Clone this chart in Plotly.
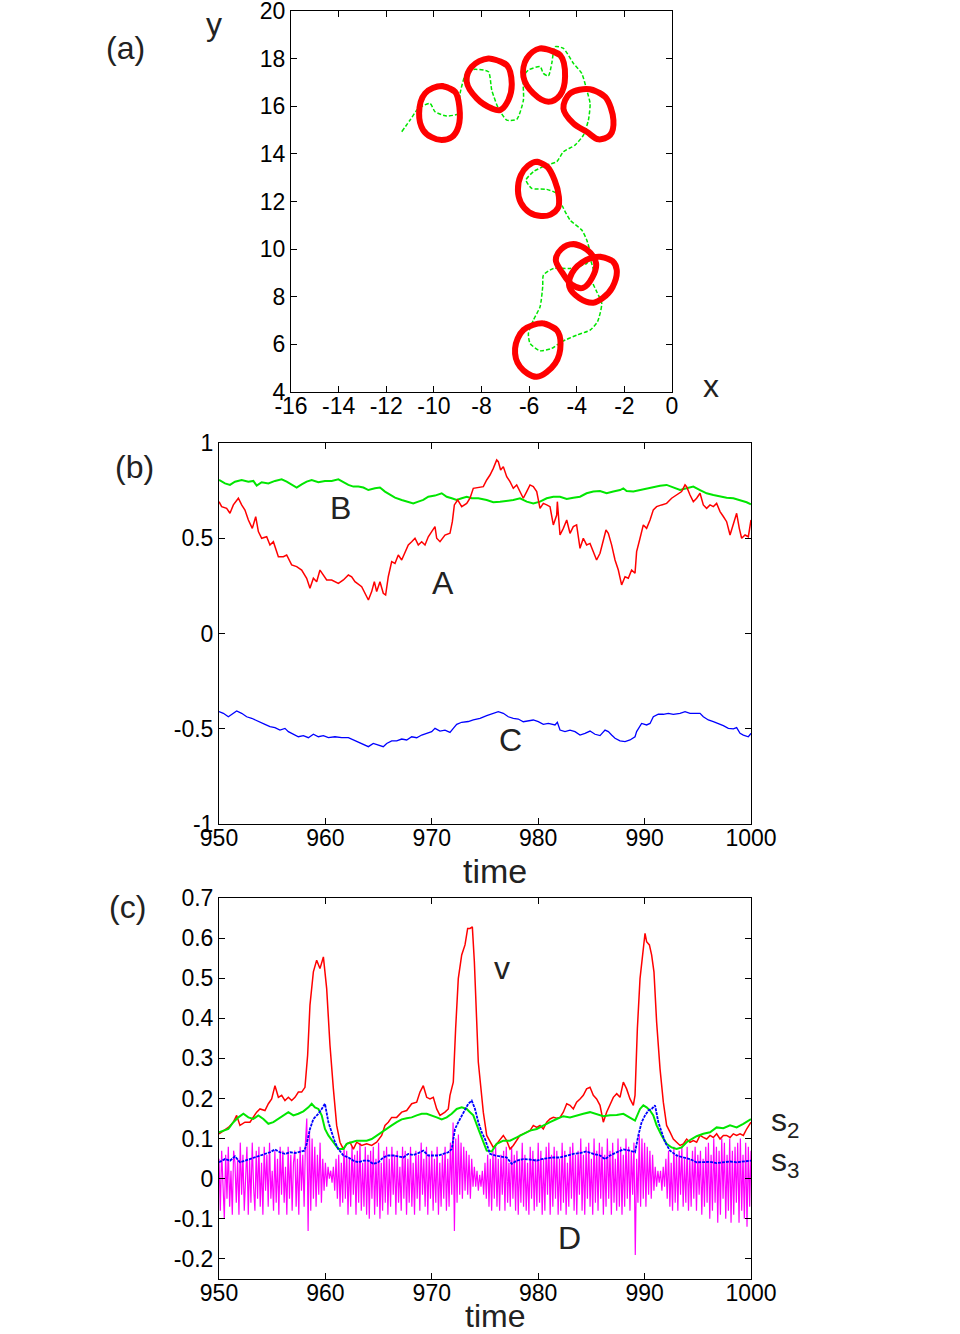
import plotly.graph_objects as go

# ---------------- Panel (a): trajectory and loops ----------------
traj_x = [-11.35, -11.0, -10.65, -10.16, -9.95, -9.46, -8.97, -8.90, -8.62, -8.27, -7.71, -7.57, -7.29,
          -6.94, -6.52, -6.24, -6.24, -6.03, -5.54, -5.40, -5.19, -5.05, -4.91, -4.56, -4.14, -3.79,
          -3.58, -3.44, -3.51, -3.72, -4.07, -4.56, -4.84, -5.26, -5.82, -6.13, -5.89, -5.26, -4.84,
          -4.6, -4.28, -3.79, -3.58, -3.44, -3.58, -4.28, -4.98, -5.40, -5.43, -5.54, -5.82, -6.03,
          -5.96, -5.54, -5.05, -4.63, -4.0, -3.44, -3.13, -2.95, -3.16, -3.37, -3.30, -3.44]
traj_y = [14.93, 15.42, 15.91, 16.12, 15.77, 15.59, 15.70, 16.54, 17.45, 17.55, 17.45, 16.68, 15.91,
          15.42, 15.45, 16.26, 17.24, 17.52, 17.66, 17.38, 17.27, 17.80, 18.50, 18.43, 17.80, 17.38,
          16.68, 16.12, 15.42, 14.79, 14.37, 14.09, 13.67, 13.53, 13.25, 12.90, 12.55, 12.51, 12.34,
          11.8, 11.22, 10.8, 10.38, 9.82, 9.40, 9.19, 9.19, 8.91, 8.42, 7.58, 7.02, 6.46,
          6.04, 5.73, 5.83, 6.11, 6.39, 6.60, 6.95, 7.72, 8.21, 8.70, 9.12, 9.6]

loops_x = [
    [-9.67, -9.11, -8.93, -8.97, -9.25, -9.67, -10.1, -10.45, -10.62, -10.37],
    [-7.71, -6.94, -6.73, -6.87, -7.22, -7.57, -8.20, -8.62, -8.41],
    [-5.54, -4.70, -4.49, -4.70, -5.19, -5.82, -6.24, -6.10],
    [-3.44, -2.81, -2.46, -2.60, -3.09, -3.58, -4.14, -4.56, -4.28],
    [-5.68, -5.24, -4.93, -4.75, -4.78, -5.1, -5.5, -6.0, -6.35, -6.47, -6.35, -6.05],
    [-4.14, -3.6, -3.19, -3.35, -3.74, -4.2, -4.6, -4.88, -4.65],
    [-3.02, -2.5, -2.32, -2.5, -2.9, -3.3, -3.9, -4.31, -4.2, -3.6],
    [-5.40, -4.84, -4.68, -4.91, -5.68, -6.38, -6.59, -6.24],
]
loops_y = [
    [16.85, 16.61, 15.98, 15.14, 14.7, 14.58, 14.7, 15.0, 15.70, 16.54],
    [18.01, 17.73, 16.96, 16.26, 15.84, 15.91, 16.33, 17.03, 17.66],
    [18.43, 18.15, 17.24, 16.47, 16.19, 16.54, 17.24, 18.01],
    [16.71, 16.40, 15.42, 14.79, 14.61, 14.93, 15.28, 15.91, 16.54],
    [13.67, 13.46, 12.90, 12.2, 11.75, 11.45, 11.39, 11.55, 11.95, 12.48, 13.1, 13.5],
    [10.21, 10.0, 9.42, 8.8, 8.37, 8.5, 9.0, 9.54, 10.0],
    [9.68, 9.5, 9.12, 8.4, 7.95, 7.75, 7.95, 8.42, 9.0, 9.55],
    [6.88, 6.60, 6.04, 5.20, 4.64, 5.06, 5.83, 6.60],
]

# ---------------- Panel (b): A, B, C ----------------
A_t = [950.00, 950.25, 950.72, 951.03, 951.35, 951.82, 952.13, 952.44, 952.76, 953.13, 953.45, 953.70,
       954.01, 954.48, 954.79, 955.11, 955.58, 956.05, 956.36, 956.83, 957.30, 957.77, 958.24, 958.55,
       958.87, 959.18, 959.49, 959.81, 960.12, 960.59, 961.22, 961.69, 962.16, 962.47, 962.78, 963.41,
       963.72, 964.04, 964.35, 964.60, 964.82, 965.13, 965.44, 965.66, 965.91, 966.23, 966.54, 966.85,
       967.17, 967.48, 967.79, 968.11, 968.42, 968.73, 969.05, 969.36, 969.67, 969.99, 970.30, 970.46,
       970.77, 971.24, 971.71, 971.93, 972.12, 972.43, 972.81, 973.28, 973.59, 973.90, 974.37,
       974.84, 975.16, 975.47, 975.78, 976.10, 976.25, 976.47, 976.72, 977.04, 977.35, 977.66, 977.98,
       978.29, 978.60, 978.92, 979.23, 979.54, 979.86, 980.17, 980.48, 980.80, 981.11, 981.42, 981.74,
       981.80, 982.05, 982.36, 982.68, 982.99, 983.30, 983.61, 983.93, 984.24, 984.55, 984.87, 985.18,
       985.49, 985.81, 986.12, 986.37, 986.59, 986.90, 987.22, 987.53, 987.84, 988.16, 988.47, 988.78,
       989.10, 989.25, 989.57, 989.88, 990.19, 990.51, 990.82, 991.13, 991.60, 992.07, 992.54, 993.01,
       993.48, 993.80, 993.95, 994.27, 994.58, 994.89, 995.21, 995.52, 995.83, 996.15, 996.46, 996.77,
       997.09, 997.40, 997.71, 998.03, 998.34, 998.65, 998.90, 999.12, 999.44, 999.75, 1000.0]
A_v = [0.692, 0.666, 0.657, 0.631, 0.675, 0.710, 0.675, 0.648, 0.596, 0.552, 0.613, 0.535,
       0.500, 0.508, 0.465, 0.482, 0.403, 0.403, 0.412, 0.360, 0.351, 0.333, 0.290, 0.237,
       0.290, 0.272, 0.333, 0.307, 0.281, 0.281, 0.263, 0.281, 0.307, 0.298, 0.272, 0.246,
       0.211, 0.176, 0.220, 0.272, 0.220, 0.272, 0.211, 0.202, 0.298, 0.377, 0.368, 0.412,
       0.386, 0.430, 0.465, 0.482, 0.500, 0.465, 0.482, 0.465, 0.508, 0.535, 0.561, 0.500,
       0.482, 0.517, 0.526, 0.587, 0.675, 0.701, 0.666, 0.683, 0.710, 0.762, 0.766,
       0.771, 0.806, 0.832, 0.867, 0.911, 0.902, 0.858, 0.876, 0.823, 0.797, 0.762, 0.780,
       0.745, 0.710, 0.745, 0.780, 0.771, 0.745, 0.657, 0.683, 0.675, 0.666, 0.570, 0.622,
       0.692, 0.517, 0.552, 0.596, 0.526, 0.561, 0.570, 0.447, 0.500, 0.465, 0.473, 0.430,
       0.386, 0.421, 0.482, 0.543, 0.526, 0.465, 0.386, 0.333, 0.255, 0.298, 0.290, 0.333,
       0.316, 0.430, 0.500, 0.570, 0.552, 0.596, 0.649, 0.666, 0.675, 0.683, 0.710, 0.727,
       0.745, 0.780, 0.771, 0.727, 0.692, 0.710, 0.736, 0.675, 0.657, 0.675, 0.666, 0.683,
       0.640, 0.614, 0.587, 0.517, 0.578, 0.631, 0.552, 0.500, 0.517, 0.508, 0.596]

B_t = [950.00, 950.56, 951.03, 951.50, 952.13, 952.76, 953.23, 953.54, 954.01, 954.64, 955.26, 955.89,
       956.36, 956.83, 957.30, 957.77, 958.24, 958.71, 959.34, 959.96, 960.59, 961.22, 961.69, 962.16,
       962.63, 963.10, 963.57, 964.04, 964.66, 965.13, 965.60, 966.07, 966.54, 967.17, 967.79, 968.26,
       968.73, 969.20, 969.67, 970.30, 970.93, 971.40, 971.87, 972.34, 972.81, 973.28, 973.75, 974.37,
       975.16, 975.78, 976.41, 977.04, 977.66, 978.29, 978.92, 979.54, 980.17, 980.80, 981.42, 982.05,
       982.68, 983.30, 983.93, 984.55, 985.18, 985.81, 986.43, 987.06, 987.69, 988.00, 988.31, 988.94,
       989.57, 990.19, 990.82, 991.45, 992.07, 992.70, 993.33, 993.95, 994.58, 995.21, 995.83, 996.46,
       997.09, 997.71, 998.34, 998.97, 999.59, 1000.0]
B_v = [0.806, 0.788, 0.780, 0.797, 0.806, 0.797, 0.801, 0.776, 0.794, 0.788, 0.801, 0.809,
       0.797, 0.780, 0.766, 0.783, 0.797, 0.806, 0.794, 0.801, 0.801, 0.809, 0.794, 0.780,
       0.771, 0.771, 0.766, 0.753, 0.762, 0.766, 0.745, 0.727, 0.713, 0.701, 0.689, 0.683,
       0.692, 0.701, 0.718, 0.724, 0.736, 0.718, 0.710, 0.701, 0.710, 0.718, 0.710, 0.710,
       0.701, 0.689, 0.692, 0.696, 0.701, 0.710, 0.692, 0.683, 0.692, 0.710, 0.718, 0.718,
       0.706, 0.713, 0.718, 0.736, 0.745, 0.748, 0.736, 0.745, 0.753, 0.762, 0.748, 0.745,
       0.753, 0.762, 0.771, 0.776, 0.780, 0.766, 0.753, 0.762, 0.771, 0.753, 0.736, 0.727,
       0.718, 0.713, 0.710, 0.701, 0.689, 0.678]

C_t = [950.00, 950.41, 950.88, 951.19, 951.66, 952.13, 952.60, 953.07, 953.38, 953.85, 954.32, 954.79,
       955.26, 955.73, 956.20, 956.52, 956.99, 957.46, 957.93, 958.40, 958.87, 959.34, 959.81, 960.28,
       960.90, 961.53, 962.16, 962.63, 963.10, 963.57, 964.04, 964.50, 964.97, 965.44, 965.76, 966.23,
       966.70, 967.17, 967.64, 968.11, 968.58, 969.05, 969.52, 969.99, 970.30, 970.77, 971.24, 971.71,
       972.02, 972.34, 972.81, 973.43, 973.90, 974.37, 974.53, 975.16, 975.78, 976.25, 976.72, 977.19,
       977.66, 978.13, 978.60, 979.07, 979.54, 980.01, 980.48, 980.95, 981.58, 981.80, 982.05, 982.52,
       982.99, 983.46, 983.93, 984.40, 984.87, 985.34, 985.81, 986.28, 986.59, 986.90, 987.22, 987.69,
       988.16, 988.63, 989.10, 989.25, 989.72, 990.19, 990.51, 990.82, 991.29, 991.76, 992.23, 992.70,
       993.33, 993.80, 994.27, 994.74, 995.21, 995.52, 995.99, 996.46, 996.93, 997.40, 997.87, 998.34,
       998.65, 998.97, 999.28, 999.75, 1000.0]
C_v = [-0.410, -0.419, -0.437, -0.424, -0.407, -0.419, -0.437, -0.445, -0.454, -0.466, -0.477, -0.489,
       -0.494, -0.507, -0.498, -0.515, -0.529, -0.542, -0.536, -0.547, -0.529, -0.542, -0.536, -0.547,
       -0.542, -0.547, -0.547, -0.559, -0.568, -0.582, -0.594, -0.577, -0.585, -0.594, -0.577, -0.564,
       -0.564, -0.554, -0.559, -0.542, -0.547, -0.533, -0.524, -0.515, -0.498, -0.512, -0.507, -0.519,
       -0.498, -0.477, -0.466, -0.462, -0.454, -0.448, -0.445, -0.431, -0.419, -0.410, -0.419, -0.437,
       -0.445, -0.449, -0.463, -0.459, -0.454, -0.463, -0.477, -0.472, -0.480, -0.466, -0.507, -0.515,
       -0.507, -0.515, -0.533, -0.524, -0.512, -0.529, -0.536, -0.507, -0.515, -0.533, -0.550, -0.564,
       -0.568, -0.559, -0.542, -0.515, -0.472, -0.480, -0.472, -0.437, -0.424, -0.424, -0.419, -0.424,
       -0.419, -0.410, -0.419, -0.419, -0.419, -0.437, -0.454, -0.463, -0.472, -0.484, -0.498, -0.501,
       -0.494, -0.524, -0.533, -0.542, -0.524]

# ---------------- Panel (c): v, s2, s3, D ----------------
v_t = [950.00, 950.41, 950.88, 951.35, 951.66, 951.97, 952.44, 952.91, 953.23, 953.54, 953.85, 954.32,
       954.64, 954.95, 955.26, 955.58, 955.89, 956.20, 956.52, 956.83, 957.14, 957.46, 957.77, 958.08,
       958.33, 958.55, 958.87, 959.18, 959.49, 959.81, 960.12, 960.43, 960.75, 961.06, 961.37, 961.69,
       962.00, 962.31, 962.63, 962.94, 963.41, 963.88, 964.35, 964.82, 965.29, 965.60, 965.91, 966.23,
       966.70, 967.17, 967.64, 968.11, 968.58, 968.89, 969.20, 969.52, 969.83, 970.14, 970.46, 970.77,
       971.24, 971.55, 971.71, 972.02, 972.24, 972.49, 972.81, 973.12, 973.37, 973.59, 973.81, 974.00,
       974.37, 974.84, 975.16, 975.47, 975.78, 976.10, 976.41, 976.72, 977.04, 977.35, 977.66, 977.98,
       978.29, 978.60, 978.92, 979.23, 979.54, 979.86, 980.17, 980.48, 980.80, 981.11, 981.42, 981.74,
       982.05, 982.36, 982.68, 982.99, 983.30, 983.61, 983.93, 984.24, 984.55, 984.87, 985.18, 985.49,
       985.81, 986.12, 986.43, 986.75, 987.06, 987.38, 987.69, 988.00, 988.31, 988.63, 988.94, 989.10,
       989.32, 989.57, 989.82, 990.04, 990.19, 990.45, 990.66, 990.88, 991.13, 991.45, 991.76, 992.07,
       992.39, 992.70, 993.01, 993.33, 993.64, 993.95, 994.27, 994.58, 994.89, 995.21, 995.52, 995.83,
       996.15, 996.46, 996.77, 997.09, 997.40, 997.71, 998.03, 998.34, 998.65, 998.97, 999.28, 999.59,
       1000.0]
v_v = [0.112, 0.120, 0.128, 0.141, 0.158, 0.133, 0.141, 0.141, 0.153, 0.166, 0.174, 0.170,
       0.187, 0.199, 0.232, 0.203, 0.208, 0.195, 0.203, 0.195, 0.203, 0.216, 0.216, 0.228,
       0.308, 0.433, 0.516, 0.545, 0.524, 0.553, 0.474, 0.333, 0.224, 0.133, 0.091, 0.074,
       0.087, 0.091, 0.074, 0.091, 0.083, 0.087, 0.083, 0.091, 0.108, 0.133, 0.141, 0.153,
       0.153, 0.166, 0.170, 0.187, 0.191, 0.216, 0.232, 0.203, 0.199, 0.203, 0.174, 0.158,
       0.166, 0.174, 0.208, 0.241, 0.374, 0.499, 0.558, 0.583, 0.624, 0.624, 0.628, 0.541,
       0.291, 0.166, 0.108, 0.091, 0.078, 0.087, 0.099, 0.108, 0.095, 0.074, 0.083, 0.095,
       0.108, 0.112, 0.116, 0.120, 0.133, 0.128, 0.133, 0.124, 0.141, 0.149, 0.153, 0.151,
       0.153, 0.166, 0.187, 0.183, 0.174, 0.191, 0.199, 0.208, 0.224, 0.228, 0.208, 0.199,
       0.183, 0.141, 0.166, 0.183, 0.203, 0.212, 0.203, 0.241, 0.224, 0.199, 0.183, 0.208,
       0.374, 0.499, 0.558, 0.612, 0.591, 0.583, 0.558, 0.516, 0.391, 0.274, 0.191, 0.133,
       0.116, 0.099, 0.091, 0.083, 0.087, 0.099, 0.091, 0.095, 0.091, 0.108, 0.103, 0.099,
       0.108, 0.103, 0.112, 0.099, 0.108, 0.108, 0.103, 0.112, 0.108, 0.112, 0.108, 0.124,
       0.141]

s2_t = [950.00, 950.41, 950.88, 951.35, 951.82, 952.29, 952.76, 953.23, 953.70, 954.17, 954.64, 955.11,
        955.58, 956.05, 956.52, 956.99, 957.46, 957.93, 958.40, 958.71, 959.02, 959.34, 959.65, 959.96,
        960.28, 960.75, 961.22, 961.69, 962.00, 962.47, 962.94, 963.41, 963.88, 964.35, 964.82, 965.29,
        965.76, 966.23, 966.70, 967.17, 967.64, 968.11, 968.58, 969.05, 969.52, 969.99, 970.46, 970.93,
        971.40, 971.87, 972.34, 972.81, 973.28, 973.59, 973.90, 974.37, 974.84, 975.16, 975.63, 976.10,
        976.72, 977.35, 977.98, 978.60, 979.23, 979.86, 980.48, 981.11, 981.74, 982.36, 982.99, 983.61,
        984.24, 984.87, 985.49, 986.12, 986.75, 987.38, 988.00, 988.63, 989.10, 989.57, 989.88, 990.19,
        990.51, 990.82, 991.13, 991.60, 992.07, 992.54, 993.01, 993.48, 993.95, 994.42, 994.89, 995.52,
        996.15, 996.77, 997.40, 998.03, 998.65, 999.28, 1000.0]
s2_v = [0.116, 0.120, 0.124, 0.141, 0.153, 0.162, 0.153, 0.149, 0.158, 0.149, 0.137, 0.141,
        0.149, 0.158, 0.166, 0.158, 0.162, 0.168, 0.178, 0.187, 0.178, 0.174, 0.158, 0.124,
        0.108, 0.091, 0.074, 0.074, 0.087, 0.091, 0.095, 0.095, 0.095, 0.099, 0.108, 0.116,
        0.124, 0.133, 0.141, 0.148, 0.151, 0.153, 0.158, 0.162, 0.162, 0.158, 0.153, 0.148,
        0.153, 0.162, 0.174, 0.178, 0.174, 0.166, 0.158, 0.124, 0.091, 0.070, 0.068, 0.087,
        0.095, 0.095, 0.103, 0.112, 0.120, 0.124, 0.133, 0.141, 0.149, 0.156, 0.153, 0.158,
        0.162, 0.166, 0.162, 0.156, 0.158, 0.159, 0.162, 0.153, 0.145, 0.174, 0.183, 0.178,
        0.170, 0.158, 0.133, 0.108, 0.087, 0.078, 0.074, 0.078, 0.091, 0.099, 0.106, 0.112,
        0.116, 0.128, 0.126, 0.133, 0.128, 0.137, 0.149]

s3_t = [950.00, 950.56, 951.03, 951.50, 951.97, 952.44, 952.91, 953.38, 953.85, 954.32, 954.79, 955.26,
        955.73, 956.20, 956.67, 957.14, 957.61, 958.02, 958.24, 958.55, 958.87, 959.34, 959.65, 959.96,
        960.28, 960.59, 960.90, 961.22, 961.69, 962.16, 962.63, 963.10, 963.57, 964.04, 964.50, 964.97,
        965.44, 965.91, 966.38, 966.85, 967.32, 967.79, 968.26, 968.73, 969.20, 969.67, 970.14, 970.61,
        971.08, 971.55, 971.87, 972.18, 972.49, 972.96, 973.43, 973.75, 974.06, 974.37, 974.69, 975.00,
        975.47, 975.94, 976.41, 977.04, 977.51, 977.98, 978.60, 979.23, 979.86, 980.33, 980.80, 981.42,
        982.05, 982.68, 983.30, 983.93, 984.55, 985.18, 985.81, 986.28, 986.75, 987.38, 988.00, 988.63,
        989.10, 989.41, 989.72, 990.04, 990.35, 990.66, 990.98, 991.29, 991.60, 991.92, 992.39, 993.01,
        993.64, 994.27, 994.89, 995.52, 996.15, 996.77, 997.40, 998.03, 998.65, 999.28, 1000.0]
s3_v = [0.041, 0.049, 0.045, 0.056, 0.041, 0.045, 0.049, 0.053, 0.058, 0.062, 0.066, 0.073,
        0.066, 0.062, 0.066, 0.064, 0.068, 0.070, 0.087, 0.124, 0.149, 0.162, 0.174, 0.187,
        0.141, 0.116, 0.091, 0.074, 0.058, 0.053, 0.045, 0.041, 0.045, 0.045, 0.037, 0.041,
        0.053, 0.058, 0.058, 0.056, 0.053, 0.062, 0.059, 0.064, 0.070, 0.058, 0.058, 0.058,
        0.062, 0.066, 0.074, 0.124, 0.141, 0.166, 0.187, 0.195, 0.174, 0.141, 0.116, 0.099,
        0.062, 0.058, 0.056, 0.053, 0.037, 0.045, 0.049, 0.048, 0.045, 0.049, 0.051, 0.053,
        0.053, 0.058, 0.062, 0.064, 0.068, 0.062, 0.058, 0.049, 0.058, 0.066, 0.073, 0.070,
        0.066, 0.108, 0.141, 0.158, 0.170, 0.174, 0.183, 0.141, 0.116, 0.091, 0.070, 0.058,
        0.053, 0.049, 0.041, 0.041, 0.042, 0.039, 0.041, 0.043, 0.041, 0.043, 0.045]

# D sampled every 0.125 time units from t = 950 (one row = 2 time units)
D_start = 950.0
D_step = 0.125
D_v = [
    0.05, -0.08, 0.07, -0.03, -0.10, 0.06, -0.05, 0.08, -0.07, 0.02, -0.09, 0.07, 0.04, -0.06, 0.05, -0.09,
    0.09, -0.04, 0.06, -0.08, 0.03, 0.08, -0.09, 0.05, -0.06, 0.09, -0.02, -0.08, 0.07, -0.05, 0.08, -0.07,
    0.04, -0.09, 0.08, -0.03, 0.06, -0.07, 0.09, -0.05, 0.02, -0.08, 0.07, -0.06, 0.05, -0.09, 0.08, -0.04,
    0.07, -0.06, 0.03, -0.09, 0.08, -0.05, 0.06, -0.08, 0.04, 0.07, -0.07, 0.05, -0.09, 0.08, -0.03, 0.06,
    -0.07, 0.09, 0.15, -0.13, 0.12, -0.08, 0.10, -0.05, 0.08, -0.07, 0.06, -0.04, 0.09, -0.06, 0.05, -0.03,
    0.04, -0.02, 0.03, 0.0, 0.02, -0.01, 0.03, -0.03, 0.05, -0.05, 0.06, -0.07, 0.04, -0.06, 0.08, -0.05,
    0.07, -0.09, 0.05, -0.07, 0.08, -0.04, 0.06, -0.09, 0.07, -0.06, 0.09, -0.08, 0.04, -0.07, 0.08, -0.09,
    0.06, -0.10, 0.07, -0.05, 0.08, -0.09, 0.05, -0.07, 0.09, -0.10, 0.04, -0.08, 0.07, -0.06, 0.08, -0.09,
    0.05, -0.07, 0.08, -0.04, 0.06, -0.09, 0.07, -0.06, 0.03, -0.08, 0.08, -0.05, 0.07, -0.09, 0.05, -0.06,
    0.08, -0.07, 0.04, -0.09, 0.07, -0.05, 0.06, -0.08, 0.09, -0.04, 0.05, -0.07, 0.08, -0.09, 0.06, -0.05,
    0.07, -0.08, 0.05, -0.06, 0.08, -0.09, 0.04, -0.07, 0.06, -0.05, 0.08, -0.08, 0.05, -0.07, 0.09, -0.04,
    0.14, -0.13, 0.10, -0.06, 0.11, -0.04, 0.09, -0.05, 0.08, -0.03, 0.07, -0.04, 0.06, -0.05, 0.05, -0.02,
    0.03, -0.02, 0.02, -0.03, 0.01, -0.02, 0.02, -0.04, 0.04, -0.05, 0.06, -0.07, 0.05, -0.08, 0.07, -0.05,
    0.08, -0.07, 0.05, -0.08, 0.06, -0.04, 0.07, -0.08, 0.08, -0.06, 0.04, -0.07, 0.08, -0.05, 0.06, -0.08,
    0.07, -0.09, 0.05, -0.06, 0.09, -0.07, 0.06, -0.08, 0.04, -0.09, 0.08, -0.05, 0.07, -0.08, 0.05, -0.07,
    0.09, -0.06, 0.07, -0.09, 0.05, -0.08, 0.08, -0.04, 0.09, -0.09, 0.06, -0.07, 0.08, -0.05, 0.07, -0.09,
    0.05, -0.08, 0.09, -0.06, 0.07, -0.09, 0.04, -0.07, 0.08, -0.05, 0.09, -0.08, 0.06, -0.09, 0.07, -0.04,
    0.10, -0.08, 0.06, -0.09, 0.08, -0.05, 0.09, -0.07, 0.05, -0.09, 0.10, -0.06, 0.07, -0.08, 0.09, -0.05,
    0.08, -0.09, 0.06, -0.07, 0.10, -0.05, 0.07, -0.09, 0.09, -0.06, 0.05, -0.08, 0.10, -0.07, 0.08, -0.09,
    0.06, -0.07, 0.10, -0.05, 0.08, -0.08, 0.07, -0.04, 0.09, -0.19, 0.05, -0.06, 0.11, -0.07, 0.10, -0.05,
    0.09, -0.07, 0.08, -0.04, 0.07, -0.05, 0.06, -0.03, 0.03, -0.02, 0.02, -0.01, 0.02, -0.03, 0.03, -0.02,
    0.05, -0.05, 0.07, -0.07, 0.04, -0.08, 0.08, -0.06, 0.06, -0.08, 0.07, -0.04, 0.08, -0.07, 0.05, -0.06,
    0.08, -0.08, 0.05, -0.07, 0.07, -0.05, 0.08, -0.08, 0.06, -0.04, 0.07, -0.09, 0.05, -0.07, 0.08, -0.06,
    0.09, -0.10, 0.06, -0.08, 0.10, -0.06, 0.08, -0.11, 0.07, -0.09, 0.10, -0.05, 0.09, -0.10, 0.06, -0.08,
    0.10, -0.11, 0.07, -0.09, 0.08, -0.06, 0.09, -0.11, 0.10, -0.08, 0.06, -0.10, 0.09, -0.12, 0.08, -0.07,
    0.07]
D_t = [D_start + D_step * i for i in range(len(D_v))]

# tick labels
a_xticks = [-16, -14, -12, -10, -8, -6, -4, -2, 0]
a_yticks = [4, 6, 8, 10, 12, 14, 16, 18, 20]
time_ticks = [950, 960, 970, 980, 990, 1000]
b_yticks = [-1, -0.5, 0, 0.5, 1]
b_yticktext = ["-1", "-0.5", "0", "0.5", "1"]
c_yticks = [-0.2, -0.1, 0, 0.1, 0.2, 0.3, 0.4, 0.5, 0.6, 0.7]
c_yticktext = ["-0.2", "-0.1", "0", "0.1", "0.2", "0.3", "0.4", "0.5", "0.6", "0.7"]

RED = "#ff0000"
GREEN = "#00e600"
BLUE = "#0000ff"
MAGENTA = "#ff00ff"
FONT = "Liberation Sans"

# Figure fills the whole 960x1334 window (page margin removed in post_script)
FIG_W = 960
FIG_H = 1334


def px(x):
    return x / FIG_W


def py(y):
    return 1 - y / FIG_H


fig = go.Figure()

# panel a
fig.add_trace(go.Scatter(x=traj_x, y=traj_y, xaxis="x", yaxis="y", mode="lines",
                         line=dict(color=GREEN, width=1.5, dash="4px,2px", shape="spline", smoothing=0.6),
                         showlegend=False, hoverinfo="skip"))
for lx, ly in zip(loops_x, loops_y):
    fig.add_trace(go.Scatter(x=lx + lx[:2], y=ly + ly[:2], xaxis="x", yaxis="y", mode="lines",
                             line=dict(color=RED, width=6, shape="spline", smoothing=1.0),
                             showlegend=False, hoverinfo="skip"))

# panel b
fig.add_trace(go.Scatter(x=B_t, y=B_v, xaxis="x2", yaxis="y2", mode="lines",
                         line=dict(color=GREEN, width=2), showlegend=False))
fig.add_trace(go.Scatter(x=A_t, y=A_v, xaxis="x2", yaxis="y2", mode="lines",
                         line=dict(color=RED, width=1.5), showlegend=False))
fig.add_trace(go.Scatter(x=C_t, y=C_v, xaxis="x2", yaxis="y2", mode="lines",
                         line=dict(color=BLUE, width=1.3), showlegend=False))

# panel c
fig.add_trace(go.Scatter(x=D_t, y=D_v, xaxis="x3", yaxis="y3", mode="lines",
                         line=dict(color=MAGENTA, width=1.2), showlegend=False))
fig.add_trace(go.Scatter(x=v_t, y=v_v, xaxis="x3", yaxis="y3", mode="lines",
                         line=dict(color=RED, width=1.5), showlegend=False))
fig.add_trace(go.Scatter(x=s2_t, y=s2_v, xaxis="x3", yaxis="y3", mode="lines",
                         line=dict(color=GREEN, width=2), showlegend=False))
fig.add_trace(go.Scatter(x=s3_t, y=s3_v, xaxis="x3", yaxis="y3", mode="lines",
                         line=dict(color=BLUE, width=1.8, dash="3px,1px"), showlegend=False))

axis_style = dict(showline=True, linecolor="black", linewidth=1, mirror="ticks",
                  ticks="inside", ticklen=6, tickcolor="black", tickwidth=1,
                  showgrid=False, zeroline=False, automargin=False,
                  ticklabeloverflow="allow",
                  tickfont=dict(family=FONT, size=23, color="black"))
x_style = dict(axis_style, ticklabelstandoff=-7)

fig.update_layout(
    template="none",
    width=FIG_W, height=FIG_H,
    margin=dict(l=0, r=0, t=0, b=0, pad=0, autoexpand=False),
    paper_bgcolor="white", plot_bgcolor="white",
    showlegend=False,
    xaxis=dict(domain=[px(291), px(672)], range=[-16, 0], anchor="y",
               tickvals=a_xticks, ticktext=[str(t) for t in a_xticks], **x_style),
    yaxis=dict(domain=[py(392), py(11)], range=[4, 20], anchor="x",
               tickvals=a_yticks, ticktext=[str(t) for t in a_yticks], **axis_style),
    xaxis2=dict(domain=[px(219), px(751)], range=[950, 1000], anchor="y2",
                tickvals=time_ticks, ticktext=[str(t) for t in time_ticks], **x_style),
    yaxis2=dict(domain=[py(824), py(443)], range=[-1, 1], anchor="x2",
                tickvals=b_yticks, ticktext=b_yticktext, **axis_style),
    xaxis3=dict(domain=[px(219), px(751)], range=[950, 1000], anchor="y3",
                tickvals=time_ticks, ticktext=[str(t) for t in time_ticks], **x_style),
    yaxis3=dict(domain=[py(1279), py(898)], range=[-0.25, 0.7], anchor="x3",
                tickvals=c_yticks, ticktext=c_yticktext, **axis_style),
)


def label(text, x, y, size, xref="paper", yref="paper"):
    fig.add_annotation(text=text, x=x, y=y, xref=xref, yref=yref, showarrow=False,
                       xanchor="center", yanchor="middle",
                       font=dict(family=FONT, size=size, color="#222222"))


label("(a)", px(125), py(48), 32)
label("y", px(214), py(24), 32)
label("x", px(711), py(386), 32)
label("(b)", px(134), py(467), 32)
label("time", px(495), py(871), 34)
label("(c)", px(127), py(907), 32)
label("time", px(495), py(1316), 32)
label("s<sub>2</sub>", px(785), py(1122), 32)
label("s<sub>3</sub>", px(785), py(1162), 32)

label("B", 961.4, 0.66, 32, "x2", "y2")
label("A", 971.05, 0.265, 32, "x2", "y2")
label("C", 977.35, -0.56, 32, "x2", "y2")
label("v", 976.6, 0.525, 32, "x3", "y3")
label("D", 982.9, -0.1475, 32, "x3", "y3")

fig.write_html("out.html",
               config={"displayModeBar": False},
               post_script="document.body.style.margin='0px';document.body.style.overflow='hidden';")
